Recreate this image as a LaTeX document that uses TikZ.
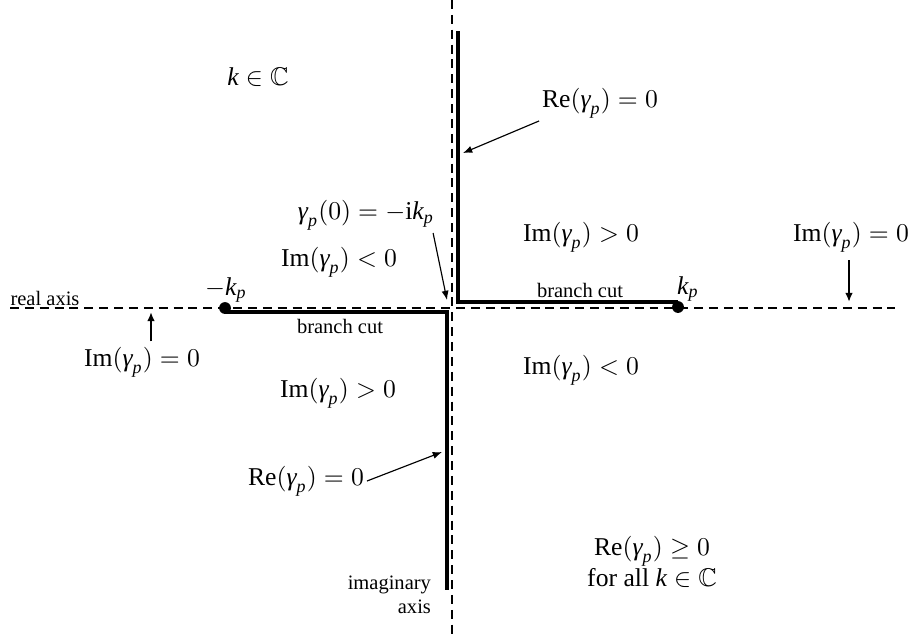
\documentclass[tikz,border=0pt]{standalone}
\usepackage{amsmath,amssymb}
\usepackage{fontspec}
\setmainfont{Liberation Serif}
\usepackage{tikz}
\usetikzlibrary{arrows.meta}
\newcommand{\gp}{\text{\itshape γ}_{\text{\itshape p}}}
\newcommand{\kv}{\text{\itshape k}}
\newcommand{\kpv}{\kv_{\text{\itshape p}}}

\begin{document}
\begin{tikzpicture}[
  x=0.39pt, y=-0.39pt,
  axis/.style={line width=1.1pt, dash pattern=on 3.5pt off 2.3pt},
  cut/.style={line width=1.6pt, line join=miter},
  dot/.style={circle, fill, inner sep=0pt, minimum size=4.6pt},
  txt/.style={inner sep=1pt},
  smalltxt/.style={font=\footnotesize, inner sep=1pt},
  arrow/.style={-{Latex[length=3.6pt,width=2.8pt]}, line width=0.45pt},
  uparrow/.style={-{Latex[length=3.6pt,width=3pt]}, line width=0.8pt}
]
\useasboundingbox (0,0) rectangle (923,639);

% axes
\coordinate (realL) at (10,308);
\coordinate (realR) at (895,308);
\coordinate (imagT) at (452,0);
\coordinate (imagB) at (452,639);
\draw[axis] (realL) -- (realR);
\draw[axis] (imagT) -- (imagB);

% branch cuts
\node[dot] (kpdot) at (678,307) {};
\node[dot] (mkpdot) at (225,308) {};
\coordinate (upTop) at (458,31);
\coordinate (upEnd) at (678,302);
\coordinate (loStart) at (225,312);
\coordinate (loBot) at (447,590);
\draw[cut] (upTop) |- (upEnd);
\draw[cut] (loStart) -| (loBot);

% labels
\node[txt] (kin) at (258,77) {$\kv \in \mathbb{C}$};
\node[txt] (reup) at (600,103) {$\mathrm{Re}(\gp) = 0$};
\node[txt] (imgtup) at (581,237) {$\mathrm{Im}(\gp) > 0$};
\node[txt] (imzr) at (851,237) {$\mathrm{Im}(\gp) = 0$};
\node[txt] (gzero) at (366,215) {$\gp(0) = -\mathrm{i}\kpv$};
\node[txt] (imltup) at (339,262) {$\mathrm{Im}(\gp) < 0$};
\node[txt] (mkp) at (226,290) {$-\kpv$};
\node[txt] (kp) at (688,289) {$\kpv$};
\node[smalltxt] (cutup) at (580,290) {branch cut};
\node[smalltxt] (cutlo) at (340,326) {branch cut};
\node[smalltxt] (realax) at (45,298) {real axis};
\node[txt] (imzl) at (142,362) {$\mathrm{Im}(\gp) = 0$};
\node[txt] (imltlo) at (581,370) {$\mathrm{Im}(\gp) < 0$};
\node[txt] (imgtlo) at (338,393) {$\mathrm{Im}(\gp) > 0$};
\node[txt] (relo) at (306,481) {$\mathrm{Re}(\gp) = 0$};
\node[txt, align=center] (regeq) at (652,562) {$\mathrm{Re}(\gp) \geq 0$\\for all $\kv \in \mathbb{C}$};
\node[smalltxt, align=right, anchor=east] (imagax) at (434,595) {imaginary\\axis};

% pointers
\coordinate (reupTip) at (463,153);
\coordinate (gzeroTip) at (447,300);
\coordinate (imzrTip) at (849,302);
\coordinate (imzlTip) at (151,312);
\coordinate (reloTip) at (442,452);
\draw[arrow] (reup.south west) -- (reupTip);
\draw[arrow] (gzero.-15) -- (gzeroTip);
\draw[arrow] (relo.east) -- (reloTip);
\draw[uparrow, shorten <=2pt] (imzr.south -| imzrTip) -- (imzrTip);
\draw[uparrow, shorten <=1pt] (imzl.north -| imzlTip) -- (imzlTip);
\end{tikzpicture}
\end{document}
